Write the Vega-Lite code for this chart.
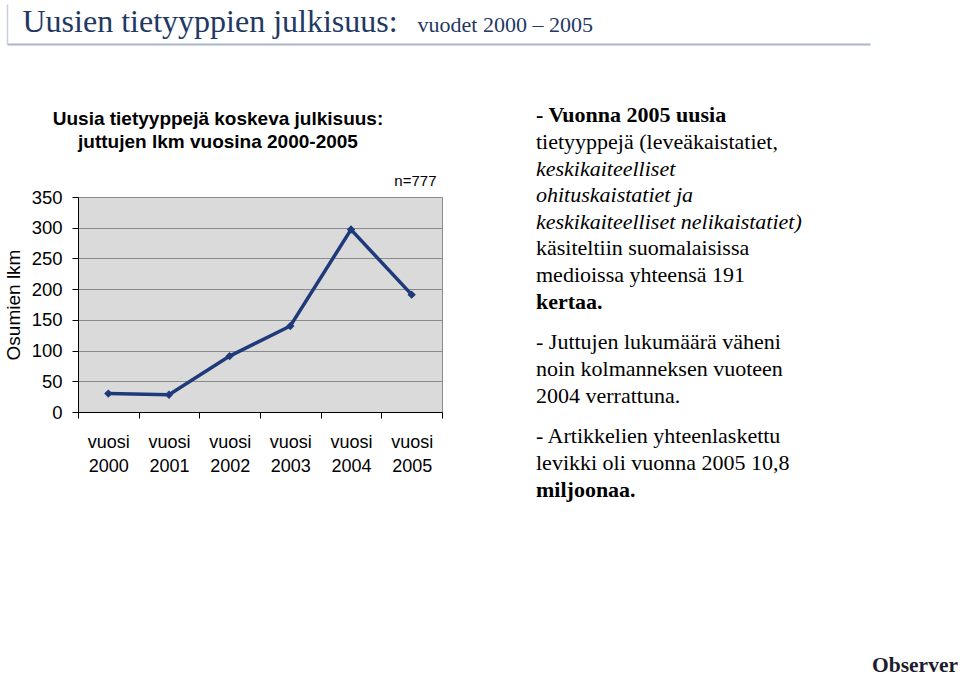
{
  "$schema": "https://vega.github.io/schema/vega-lite/v6.json",
  "background": "white",
  "padding": {"left": 3, "top": 4, "right": 0, "bottom": 0},
  "config": {"view": {"stroke": null}, "font": "Liberation Sans"},
  "datasets": {
    "counts": [
      {"year": "vuosi 2000", "count": 30},
      {"year": "vuosi 2001", "count": 28},
      {"year": "vuosi 2002", "count": 91},
      {"year": "vuosi 2003", "count": 140},
      {"year": "vuosi 2004", "count": 297},
      {"year": "vuosi 2005", "count": 191}
    ],
    "txt": [
      {"p": 1, "l": 1, "t": "- Vuonna 2005 uusia"},
      {"p": 1, "l": 2, "t": "tietyyppejä (leveäkaistatiet,"},
      {"p": 1, "l": 3, "t": "keskikaiteelliset"},
      {"p": 1, "l": 4, "t": "ohituskaistatiet ja"},
      {"p": 1, "l": 5, "t": "keskikaiteelliset nelikaistatiet)"},
      {"p": 1, "l": 6, "t": "käsiteltiin suomalaisissa"},
      {"p": 1, "l": 7, "t": "medioissa yhteensä 191"},
      {"p": 1, "l": 8, "t": "kertaa."},
      {"p": 2, "l": 1, "t": "- Juttujen lukumäärä väheni"},
      {"p": 2, "l": 2, "t": "noin kolmanneksen vuoteen"},
      {"p": 2, "l": 3, "t": "2004 verrattuna."},
      {"p": 3, "l": 1, "t": "- Artikkelien yhteenlaskettu"},
      {"p": 3, "l": 2, "t": "levikki oli vuonna 2005 10,8"},
      {"p": 3, "l": 3, "t": "miljoonaa."}
    ]
  },
  "columns": 1,
  "align": "none",
  "spacing": 58,
  "concat": [
    {
      "width": 792,
      "height": 40,
      "data": {"values": [{"k": 0}]},
      "mark": {"type": "point", "opacity": 0, "size": 1},
      "encoding": {
        "x": {
          "datum": 0.5,
          "type": "quantitative",
          "scale": {"domain": [0, 1], "range": [-71, 792]},
          "axis": {
            "orient": "bottom",
            "domain": true,
            "domainColor": "#a9b6cc",
            "domainWidth": 2,
            "labels": false,
            "ticks": false,
            "grid": false,
            "title": "vuodet 2000 – 2005",
            "titleFont": "Liberation Serif",
            "titleFontSize": 22,
            "titleFontWeight": "normal",
            "titleColor": "#1f3864",
            "titleX": 339,
            "titleY": -13,
            "titleAlign": "left",
            "titleBaseline": "alphabetic"
          }
        },
        "y": {
          "datum": 0.5,
          "type": "quantitative",
          "scale": {"domain": [0, 1]},
          "axis": {
            "offset": 71,
            "domain": true,
            "domainColor": "#c9cdd8",
            "domainWidth": 1.5,
            "labels": false,
            "ticks": false,
            "grid": false,
            "title": "Uusien tietyyppien julkisuus:",
            "titleFont": "Liberation Serif",
            "titleFontSize": 32,
            "titleFontWeight": "normal",
            "titleColor": "#1f3864",
            "titleAngle": 0,
            "titleX": 15,
            "titleY": 27,
            "titleAlign": "left",
            "titleBaseline": "alphabetic"
          }
        }
      }
    },
    {
      "columns": 2,
      "align": "none",
      "spacing": 93,
      "concat": [
        {
          "columns": 1,
          "align": "none",
          "spacing": 20,
          "concat": [
            {
              "width": 364,
              "height": 1,
              "title": {
                "text": ["Uusia tietyyppejä koskeva julkisuus:", "juttujen lkm vuosina 2000-2005"],
                "font": "Liberation Sans",
                "fontSize": 19,
                "fontWeight": "bold",
                "color": "#000000",
                "orient": "bottom",
                "anchor": "middle",
                "frame": "group",
                "baseline": "top",
                "lineHeight": 23,
                "offset": 7,
                "dx": -42
              },
              "data": {"values": [{"k": 0}]},
              "mark": {"type": "point", "opacity": 0, "size": 1}
            },
            {
              "width": 364,
              "height": 215,
              "view": {"fill": "#dadada", "stroke": "#8c8c8c"},
              "data": {"name": "counts"},
              "layer": [
                {
                  "mark": {
                    "type": "line",
                    "color": "#1f3a7a",
                    "strokeWidth": 3.5,
                    "point": {"shape": "diamond", "size": 70, "filled": true, "color": "#1f3a7a"}
                  },
                  "encoding": {
                    "x": {
                      "field": "year",
                      "type": "nominal",
                      "sort": null,
                      "bandPosition": 0.5,
                      "scale": {"type": "band", "paddingInner": 0, "paddingOuter": 0},
                      "axis": {
                        "title": null,
                        "tickBand": "extent",
                        "labelExpr": "split(datum.label, ' ')",
                        "labelAngle": 0,
                        "labelFont": "Liberation Sans",
                        "labelFontSize": 18,
                        "labelColor": "#000000",
                        "labelLineHeight": 24,
                        "labelBaseline": "top",
                        "labelPadding": 15,
                        "tickSize": 6,
                        "tickColor": "#000000",
                        "domainColor": "#000000",
                        "grid": false
                      }
                    },
                    "y": {
                      "field": "count",
                      "type": "quantitative",
                      "scale": {"domain": [0, 350], "nice": false},
                      "axis": {
                        "title": "Osumien lkm",
                        "titleFont": "Liberation Sans",
                        "titleFontSize": 19,
                        "titleFontWeight": "normal",
                        "titleColor": "#000000",
                        "titlePadding": 8,
                        "values": [0, 50, 100, 150, 200, 250, 300, 350],
                        "labelFont": "Liberation Sans",
                        "labelFontSize": 18.5,
                        "labelColor": "#000000",
                        "labelPadding": 10,
                        "tickSize": 6,
                        "tickColor": "#000000",
                        "domainColor": "#000000",
                        "grid": true,
                        "gridColor": "#8a8a8a",
                        "gridWidth": 1
                      }
                    }
                  }
                },
                {
                  "mark": {"type": "point", "opacity": 0},
                  "encoding": {
                    "x": {
                      "field": "year",
                      "type": "nominal",
                      "sort": null,
                      "axis": {
                        "orient": "top",
                        "title": "n=777",
                        "titleFont": "Liberation Sans",
                        "titleFontSize": 15,
                        "titleFontWeight": "normal",
                        "titleColor": "#000000",
                        "titleX": 358,
                        "titleAlign": "right",
                        "titlePadding": 9,
                        "labels": false,
                        "ticks": false,
                        "domain": false,
                        "grid": false
                      }
                    }
                  }
                }
              ],
              "resolve": {"axis": {"x": "independent"}}
            }
          ]
        },
        {
          "columns": 1,
          "align": "none",
          "spacing": 14,
          "concat": [
            {
              "width": 330,
              "height": 213,
              "data": {"name": "txt"},
              "transform": [{"filter": "datum.p == 1"}],
              "encoding": {
                "y": {"field": "l", "type": "ordinal", "scale": {"type": "point", "padding": 0.5}, "axis": null},
                "x": {"datum": 0, "type": "quantitative", "scale": {"domain": [0, 1]}, "axis": null},
                "text": {"field": "t"}
              },
              "layer": [
                {
                  "transform": [{"filter": "datum.l == 2 || datum.l == 6 || datum.l == 7"}],
                  "mark": {"type": "text", "align": "left", "baseline": "middle", "font": "Liberation Serif", "fontSize": 22, "color": "#000000"}
                },
                {
                  "transform": [{"filter": "datum.l == 1 || datum.l == 8"}],
                  "mark": {"type": "text", "align": "left", "baseline": "middle", "font": "Liberation Serif", "fontSize": 22, "fontWeight": "bold", "color": "#000000"}
                },
                {
                  "transform": [{"filter": "datum.l >= 3 && datum.l <= 5"}],
                  "mark": {"type": "text", "align": "left", "baseline": "middle", "font": "Liberation Serif", "fontSize": 22, "fontStyle": "italic", "color": "#000000"}
                }
              ]
            },
            {
              "width": 330,
              "height": 80,
              "data": {"name": "txt"},
              "transform": [{"filter": "datum.p == 2"}],
              "mark": {"type": "text", "align": "left", "baseline": "middle", "font": "Liberation Serif", "fontSize": 22, "color": "#000000"},
              "encoding": {
                "y": {"field": "l", "type": "ordinal", "scale": {"type": "point", "padding": 0.5}, "axis": null},
                "x": {"datum": 0, "type": "quantitative", "scale": {"domain": [0, 1]}, "axis": null},
                "text": {"field": "t"}
              }
            },
            {
              "width": 330,
              "height": 80,
              "data": {"name": "txt"},
              "transform": [{"filter": "datum.p == 3"}],
              "encoding": {
                "y": {"field": "l", "type": "ordinal", "scale": {"type": "point", "padding": 0.5}, "axis": null},
                "x": {"datum": 0, "type": "quantitative", "scale": {"domain": [0, 1]}, "axis": null},
                "text": {"field": "t"}
              },
              "layer": [
                {
                  "transform": [{"filter": "datum.l <= 2"}],
                  "mark": {"type": "text", "align": "left", "baseline": "middle", "font": "Liberation Serif", "fontSize": 22, "color": "#000000"}
                },
                {
                  "transform": [{"filter": "datum.l == 3"}],
                  "mark": {"type": "text", "align": "left", "baseline": "middle", "font": "Liberation Serif", "fontSize": 22, "fontWeight": "bold", "color": "#000000"}
                }
              ]
            },
            {
              "width": 330,
              "height": 1,
              "title": {
                "text": "Observer",
                "font": "Liberation Serif",
                "fontSize": 21.5,
                "fontWeight": "bold",
                "color": "#1c1c2c",
                "orient": "bottom",
                "anchor": "end",
                "frame": "group",
                "baseline": "alphabetic",
                "offset": 154,
                "dx": 92
              },
              "data": {"values": [{"k": 0}]},
              "mark": {"type": "point", "opacity": 0, "size": 1}
            }
          ]
        }
      ]
    }
  ]
}
